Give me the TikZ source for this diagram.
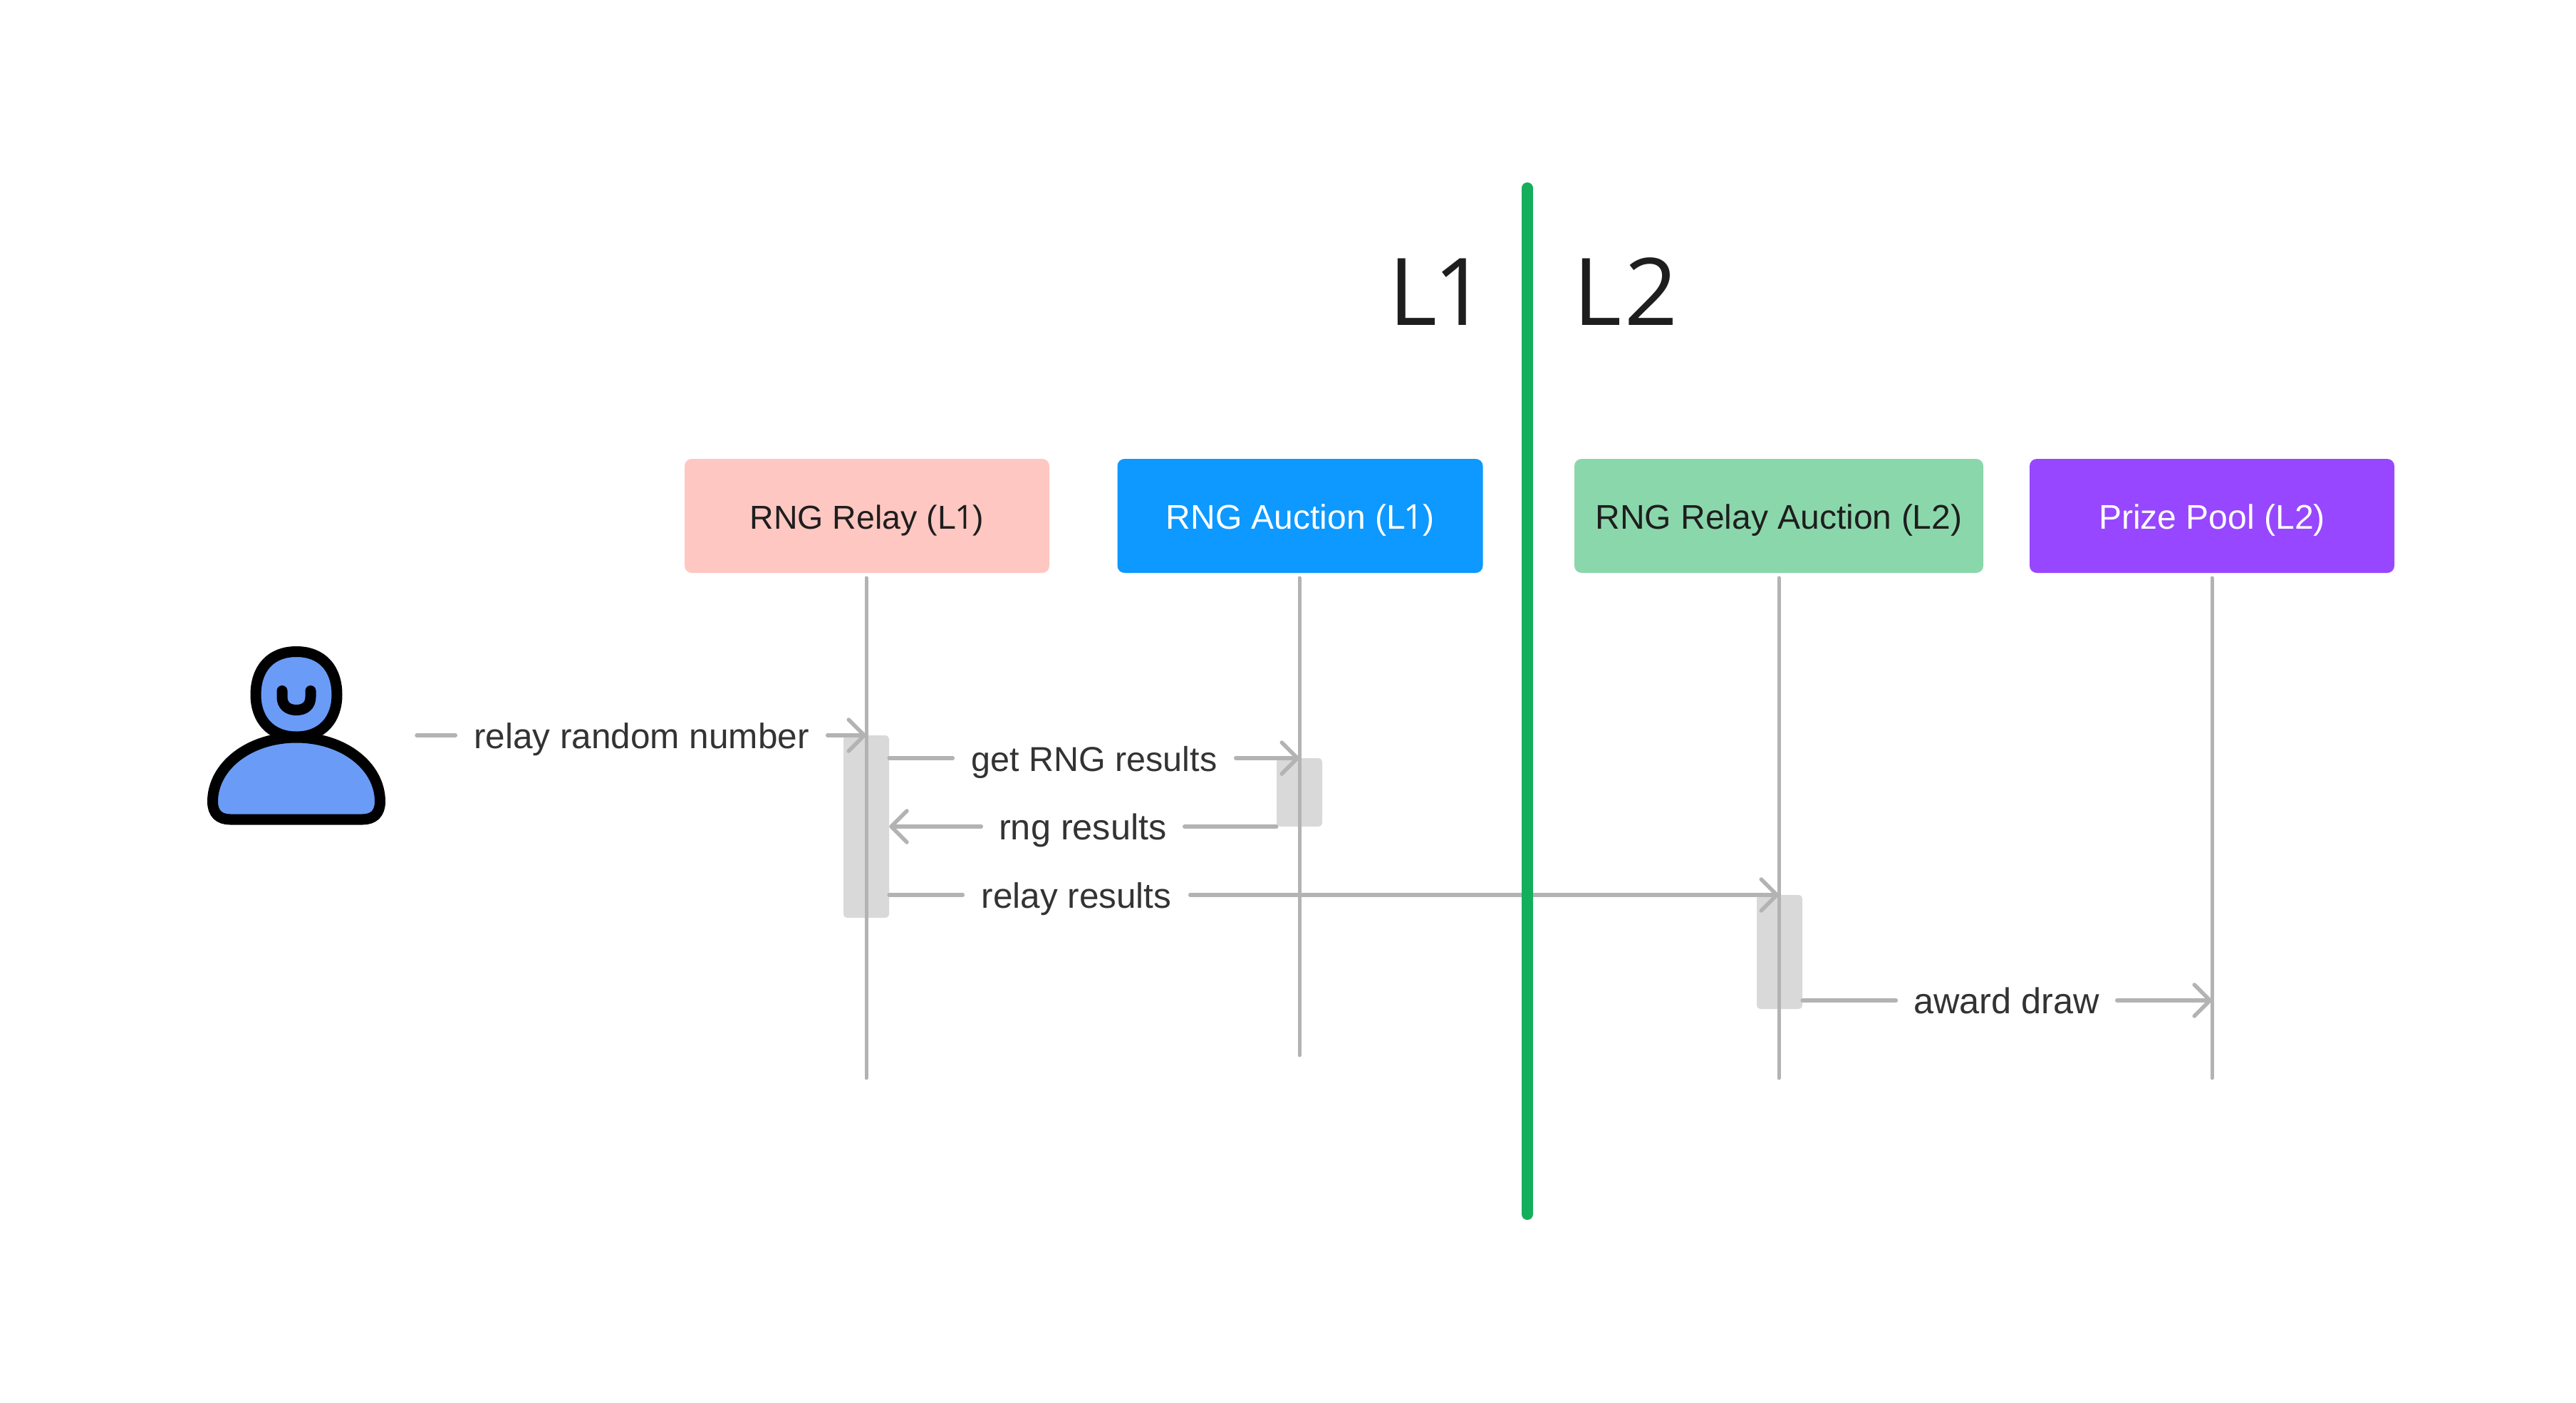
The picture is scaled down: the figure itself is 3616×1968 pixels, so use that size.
\documentclass[tikz,border=0pt]{standalone}
\usepackage{fontspec}
\setmainfont{Liberation Sans}
\newfontfamily\zonefont{Open Sans}
\usetikzlibrary{arrows.meta}
\definecolor{linegray}{HTML}{B3B3B3}
\definecolor{actgray}{HTML}{D9D9D9}
\definecolor{txtgray}{HTML}{333333}
\definecolor{txtdark}{HTML}{1E1E1E}
\definecolor{boxpink}{HTML}{FFC7C2}
\definecolor{boxblue}{HTML}{0D99FF}
\definecolor{boxgreen}{HTML}{8BD7AC}
\definecolor{boxpurple}{HTML}{9747FF}
\definecolor{divgreen}{HTML}{14AE5C}
\definecolor{userblue}{HTML}{6A9BF7}
\tikzset{
  x=1pt,y=-1pt,
  partbox/.style={rounded corners=10pt,inner sep=0pt,minimum height=160pt,text height=36pt,text depth=0pt,
    font=\fontsize{48}{48}\selectfont,align=center},
  actbox/.style={fill=actgray,rounded corners=5pt,inner sep=0pt,draw=none},
  msglabel/.style={inner sep=0pt,text height=36pt,text depth=0pt,text=txtgray,font=\fontsize{49.5}{50}\selectfont},
  lifeline/.style={draw=linegray,line width=5pt,line cap=round},
  conn/.style={draw=linegray,line width=5.5pt,line cap=round},
  connarrow/.style={conn,-{Straight Barb[length=22pt,width=44pt,line width=5.5pt,round]}},
  zonelabel/.style={inner sep=0pt,text=txtdark,font=\zonefont\fontsize{131}{131}\selectfont,anchor=base},
  usershape/.style={draw=black,line width=15pt,fill=userblue,line join=round},
  divider/.style={draw=divgreen,line width=16pt,line cap=round},
}
\begin{document}
\begin{tikzpicture}
\useasboundingbox[fill=white] (0,0) rectangle (3616,1968);
% zone labels
\node[zonelabel] (l1) at (2018,456) {L\kern-5pt 1};
\node[zonelabel] (l2) at (2282,456) {L\kern4pt 2};
% participant boxes
\node[partbox,fill=boxpink,text=txtdark,minimum width=512pt,font=\fontsize{46.5}{48}\selectfont] (relay) at (1217,724) {RNG Relay (L\kern-1.5pt{\zonefont 1}\kern-1.5pt)};
\node[partbox,fill=boxblue,text=white,minimum width=513pt] (auction) at (1825,724) {RNG Auction (L\kern-2pt{\zonefont 1}\kern-1pt)};
\node[partbox,fill=boxgreen,text=txtdark,minimum width=574pt] (relayauction) at (2497,724) {RNG Relay Auction (L2)};
\node[partbox,fill=boxpurple,text=white,minimum width=512pt] (prize) at (3105,724) {Prize Pool (L2)};
% activations
\node[actbox,minimum width=64pt,minimum height=256pt] (act1) at (1216,1160) {};
\node[actbox,minimum width=64pt,minimum height=96pt] (act2) at (1824,1112) {};
\node[actbox,minimum width=64pt,minimum height=160pt] (act3) at (2498,1336) {};
% lifelines
\coordinate (relayTop) at (1216,811);
\coordinate (relayEnd) at (1216,1513);
\coordinate (auctionTop) at (1824,811);
\coordinate (auctionEnd) at (1824,1481);
\coordinate (raTop) at (2497,811);
\coordinate (raEnd) at (2497,1513);
\coordinate (prizeTop) at (3105,811);
\coordinate (prizeEnd) at (3105,1513);
\draw[lifeline] (relayTop) -- (relayEnd);
\draw[lifeline] (auctionTop) -- (auctionEnd);
\draw[lifeline] (raTop) -- (raEnd);
\draw[lifeline] (prizeTop) -- (prizeEnd);
% user icon
\path[usershape] (416,1035) .. controls (350,1035) and (298.5,1075) .. (298.5,1125)
  .. controls (298.5,1142) and (308,1150) .. (323,1150) -- (509,1150)
  .. controls (524,1150) and (533.5,1142) .. (533.5,1125)
  .. controls (533.5,1075) and (482,1035) .. (416,1035) -- cycle;
\path[usershape] (416,914.5) .. controls (452,914.5) and (473,938) .. (473,975)
  .. controls (473,1010) and (452,1034) .. (416,1034)
  .. controls (380,1034) and (359,1010) .. (359,975)
  .. controls (359,938) and (380,914.5) .. (416,914.5) -- cycle;
\draw[black,line width=15pt,line cap=round] (396,969.5) -- (396,978)
  .. controls (396,990) and (404,996.5) .. (416,996.5)
  .. controls (428,996.5) and (436,990) .. (436,978) -- (436,969.5);
\coordinate (userEdge) at (585,1032);
% message labels
\node[msglabel,minimum width=522pt] (m1) at (900.5,1032) {relay random number};
\node[msglabel,minimum width=397pt,font=\fontsize{48.5}{50}\selectfont] (m2) at (1536,1064) {get RNG results};
\node[msglabel,minimum width=285pt,font=\fontsize{50.5}{50}\selectfont] (m3) at (1520,1160) {rng results};
\node[msglabel,minimum width=319pt] (m4) at (1511,1256) {relay results};
\node[msglabel,minimum width=310pt,font=\fontsize{50.5}{50}\selectfont] (m5) at (2816.5,1404) {award draw};
% connectors
\draw[conn] (userEdge) -- (m1.west);
\draw[connarrow] (m1.east) -- (relayTop |- m1.east);
\draw[conn] (act1.east |- m2.west) -- (m2.west);
\draw[connarrow] (m2.east) -- (auctionTop |- m2.east);
\draw[conn] (act2.west |- m3.east) -- (m3.east);
\draw[connarrow] (m3.west) -- (act1.east |- m3.west);
\draw[conn] (act1.east |- m4.west) -- (m4.west);
\draw[connarrow] (m4.east) -- (raTop |- m4.east);
\draw[conn] (act3.east |- m5.west) -- (m5.west);
\draw[connarrow] (m5.east) -- (prizeTop |- m5.east);
% divider
\coordinate (divTop) at (2144,264);
\coordinate (divEnd) at (2144,1704);
\draw[divider] (divTop) -- (divEnd);
\end{tikzpicture}
\end{document}
